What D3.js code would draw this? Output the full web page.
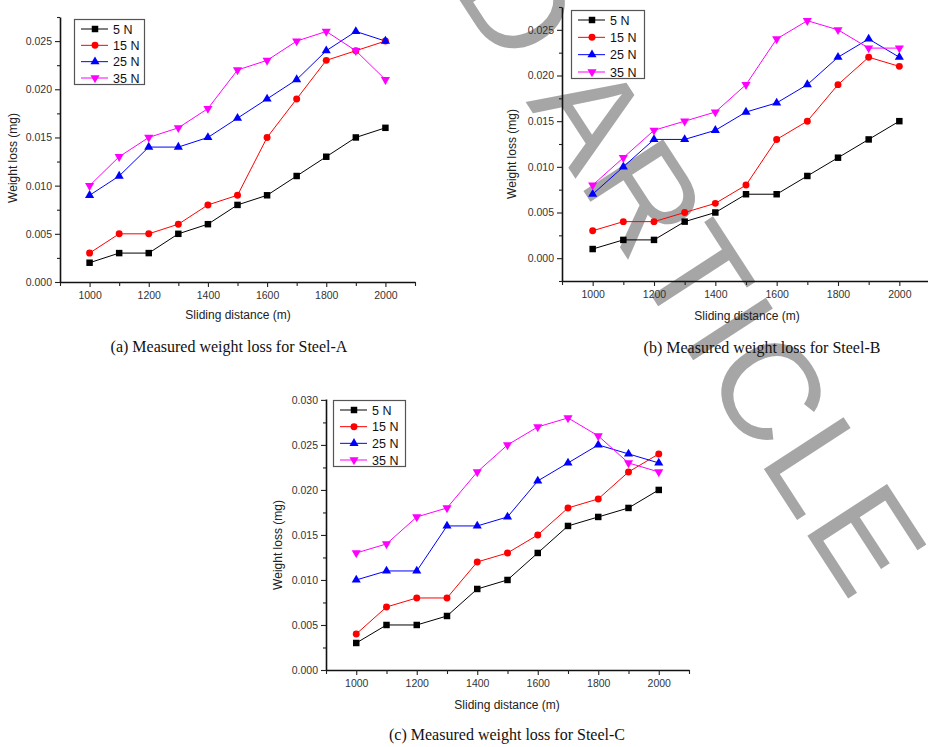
<!DOCTYPE html>
<html>
<head>
<meta charset="utf-8">
<script src="https://cdn.jsdelivr.net/npm/d3@7"></script>
<style>
  body { margin: 0; background: #fff; }
  svg { display: block; }
</style>
</head>
<body>
<div id="chart"></div>
<script>
// sliding distance (m) and loads
var distances = [1000, 1100, 1200, 1300, 1400, 1500, 1600, 1700, 1800, 1900, 2000];
var loads = ["5 N", "15 N", "25 N", "35 N"];

// Steel-A weight loss (mg)
var steelA_5N  = [0.002, 0.003, 0.003, 0.005, 0.006, 0.008, 0.009, 0.011, 0.013, 0.015, 0.016];
var steelA_15N = [0.003, 0.005, 0.005, 0.006, 0.008, 0.009, 0.015, 0.019, 0.023, 0.024, 0.025];
var steelA_25N = [0.009, 0.011, 0.014, 0.014, 0.015, 0.017, 0.019, 0.021, 0.024, 0.026, 0.025];
var steelA_35N = [0.010, 0.013, 0.015, 0.016, 0.018, 0.022, 0.023, 0.025, 0.026, 0.024, 0.021];

// Steel-B
var steelB_5N  = [0.001, 0.002, 0.002, 0.004, 0.005, 0.007, 0.007, 0.009, 0.011, 0.013, 0.015];
var steelB_15N = [0.003, 0.004, 0.004, 0.005, 0.006, 0.008, 0.013, 0.015, 0.019, 0.022, 0.021];
var steelB_25N = [0.007, 0.010, 0.013, 0.013, 0.014, 0.016, 0.017, 0.019, 0.022, 0.024, 0.022];
var steelB_35N = [0.008, 0.011, 0.014, 0.015, 0.016, 0.019, 0.024, 0.026, 0.025, 0.023, 0.023];

// Steel-C
var steelC_5N  = [0.003, 0.005, 0.005, 0.006, 0.009, 0.010, 0.013, 0.016, 0.017, 0.018, 0.020];
var steelC_15N = [0.004, 0.007, 0.008, 0.008, 0.012, 0.013, 0.015, 0.018, 0.019, 0.022, 0.024];
var steelC_25N = [0.010, 0.011, 0.011, 0.016, 0.016, 0.017, 0.021, 0.023, 0.025, 0.024, 0.023];
var steelC_35N = [0.013, 0.014, 0.017, 0.018, 0.022, 0.025, 0.027, 0.028, 0.026, 0.023, 0.022];

// tick labels
var xTicks = [1000, 1200, 1400, 1600, 1800, 2000];
var yTicksAB = [0, 0.005, 0.010, 0.015, 0.020, 0.025];
var yTicksC = [0, 0.005, 0.010, 0.015, 0.020, 0.025, 0.030];

var captions = ["(a) Measured weight loss for Steel-A",
                "(b) Measured weight loss for Steel-B",
                "(c) Measured weight loss for Steel-C"];

var colors = ["#000000", "#ff0000", "#0000ff", "#ff00ff"];
var symbols = [d3.symbolSquare, d3.symbolCircle, d3.symbolTriangle, d3.symbolTriangle];
var symbolSizes = [42, 38, 36, 36];

var width = 928, height = 747;

var svg = d3.select("#chart")
  .append("svg")
    .attr("width", width)
    .attr("height", height);

// watermark, sits behind the charts
svg.append("text")
  .attr("transform", "translate(853,606) rotate(57)")
  .attr("text-anchor", "end")
  .style("font-family", "'Liberation Sans', Arial, sans-serif")
  .style("font-size", "138px")
  .style("letter-spacing", "3px")
  .style("fill", "#a6a6a6")
  .text("RETRACTED ARTICLE");

var panels = [
  { series: [steelA_5N, steelA_15N, steelA_25N, steelA_35N],
    x0: 60, x1: 415, y0: 282, y1: 17, ymin: 0, ymax: 0.0275, yTicks: yTicksAB,
    legend: [74, 19, 70, 65], xTitle: [238, 319], yTitle: [17, 158], caption: [229, 352] },
  { series: [steelB_5N, steelB_15N, steelB_25N, steelB_35N],
    x0: 562, x1: 930, y0: 281, y1: 7, ymin: -0.0025, ymax: 0.0275, yTicks: yTicksAB,
    legend: [571, 10, 73, 68], xTitle: [747, 320], yTitle: [516, 154], caption: [762, 353] },
  { series: [steelC_5N, steelC_15N, steelC_25N, steelC_35N],
    x0: 326, x1: 689, y0: 670, y1: 399, ymin: 0, ymax: 0.0301, yTicks: yTicksC,
    legend: [333, 400, 72, 66], xTitle: [507, 709], yTitle: [282, 545], caption: [507, 740] }
];

panels.forEach(function(p, pi){

  var xScale = d3.scaleLinear().domain([900, 2100]).range([p.x0, p.x1]);
  var yScale = d3.scaleLinear().domain([p.ymin, p.ymax]).range([p.y0, p.y1]);

  var g = svg.append("g");

  // x axis, major ticks every 200 with labels, minor every 100
  var minorX = d3.range(900, 2101, 100);
  var xAxis = g.append("g")
    .attr("transform", "translate(0," + p.y0 + ")")
    .call(d3.axisBottom(xScale).tickValues(minorX)
      .tickSize(4).tickSizeOuter(0)
      .tickFormat(function(d){ return xTicks.indexOf(d) >= 0 ? d : ""; }));

  var minorY = d3.range(Math.ceil(p.ymin / 0.0025), Math.floor(p.ymax / 0.0025) + 1)
    .map(function(i){ return +(i * 0.0025).toFixed(4); });
  var yAxis = g.append("g")
    .attr("transform", "translate(" + p.x0 + ",0)")
    .call(d3.axisLeft(yScale).tickValues(minorY)
      .tickSizeOuter(0)
      .tickFormat(function(d){ return p.yTicks.indexOf(d) >= 0 ? d3.format(".3f")(d) : ""; }));

  yAxis.selectAll(".tick line")
    .attr("x2", function(d){ return p.yTicks.indexOf(d) >= 0 ? -5 : -3; });
  xAxis.selectAll(".tick line")
    .attr("y2", function(d){ return xTicks.indexOf(d) >= 0 ? 5 : 4; });

  [xAxis, yAxis].forEach(function(ax){
    ax.select(".domain").attr("stroke", "#111").attr("stroke-width", 1.6);
    ax.selectAll(".tick line").attr("stroke", "#222").attr("stroke-width", 1.1);
    ax.selectAll(".tick text")
      .style("font-family", "'Liberation Sans', Arial, sans-serif")
      .style("font-size", "10.5px")
      .attr("fill", "#333");
  });
  xAxis.selectAll(".tick text").attr("y", 10);
  yAxis.selectAll(".tick text").attr("x", -8);

  // axis titles
  g.append("text")
    .attr("x", p.xTitle[0])
    .attr("y", p.xTitle[1])
    .attr("text-anchor", "middle")
    .style("font-family", "'Liberation Sans', Arial, sans-serif")
    .style("font-size", "12px")
    .style("fill", "#222")
    .text("Sliding distance (m)");

  g.append("text")
    .attr("transform", "translate(" + p.yTitle[0] + "," + p.yTitle[1] + ") rotate(-90)")
    .attr("text-anchor", "middle")
    .style("font-family", "'Liberation Sans', Arial, sans-serif")
    .style("font-size", "12px")
    .style("fill", "#222")
    .text("Weight loss (mg)");

  // lines
  var line = d3.line()
    .x(function(d, i){ return xScale(distances[i]); })
    .y(function(d){ return yScale(d); });

  g.selectAll("lines")
    .data(p.series)
    .enter()
    .append("path")
      .attr("d", function(d){ return line(d); })
      .attr("stroke", function(d, i){ return colors[i]; })
      .attr("stroke-width", 1)
      .attr("fill", "none");

  // markers
  p.series.forEach(function(s, si){
    g.selectAll("dots" + si)
      .data(s)
      .enter()
      .append("path")
        .attr("d", d3.symbol().type(symbols[si]).size(symbolSizes[si]))
        .attr("transform", function(d, i){
          return "translate(" + xScale(distances[i]) + "," + yScale(d) + ")" + (si == 3 ? " rotate(180)" : "");
        })
        .attr("fill", colors[si]);
  });

  // legend box
  var lg = g.append("g").attr("transform", "translate(" + p.legend[0] + "," + p.legend[1] + ")");
  lg.append("rect")
    .attr("x", 0.5).attr("y", 0.5)
    .attr("width", p.legend[2]).attr("height", p.legend[3])
    .attr("fill", "#fff")
    .attr("stroke", "#555")
    .attr("stroke-width", 1.2);

  var rowH = (p.legend[3] - 16) / 3;
  loads.forEach(function(name, i){
    var yy = 10 + i * rowH;
    lg.append("line")
      .attr("x1", 7).attr("x2", 34)
      .attr("y1", yy).attr("y2", yy)
      .attr("stroke", colors[i])
      .attr("stroke-width", 1);
    lg.append("path")
      .attr("d", d3.symbol().type(symbols[i]).size(symbolSizes[i]))
      .attr("transform", "translate(21," + yy + ")" + (i == 3 ? " rotate(180)" : ""))
      .attr("fill", colors[i]);
    lg.append("text")
      .attr("x", 39)
      .attr("y", yy + 4.5)
      .style("font-family", "'Liberation Sans', Arial, sans-serif")
      .style("font-size", "12.5px")
      .style("fill", "#111")
      .text(name);
  });

  // caption
  svg.append("text")
    .attr("x", p.caption[0])
    .attr("y", p.caption[1])
    .attr("text-anchor", "middle")
    .style("font-family", "'Liberation Serif', 'Times New Roman', serif")
    .style("font-size", "16px")
    .style("fill", "#111")
    .text(captions[pi]);
});
</script>
</body>
</html>
